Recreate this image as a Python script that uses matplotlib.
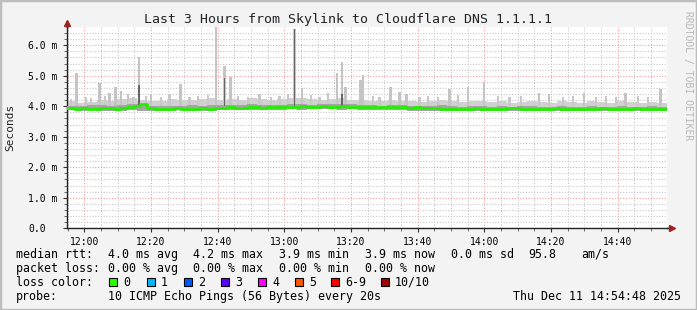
import matplotlib
matplotlib.use("Agg")
import matplotlib.pyplot as plt
import numpy as np

plt.rcParams['font.family'] = ['DejaVu Sans Mono']

# median rtt (ms), one value every 2 minutes starting 11:54:48
median_ms = [3.94, 3.92, 3.93, 3.91, 3.92, 3.94, 3.93, 3.92, 3.95, 3.97,
             4.01, 4.06, 3.93, 3.92, 3.91, 3.92, 3.93, 3.92, 3.91, 3.92,
             3.93, 3.92, 3.93, 3.94, 3.96, 3.95, 3.94, 3.97, 3.96, 3.95,
             3.97, 3.98, 3.96, 3.97, 3.99, 4.00, 3.98, 3.99, 4.01, 3.98,
             3.99, 4.00, 3.98, 3.97, 3.98, 3.99, 3.97, 3.98, 3.96, 3.97,
             3.96, 3.95, 3.96, 3.94, 3.95, 3.93, 3.92, 3.91, 3.92, 3.90,
             3.91, 3.93, 3.91, 3.90, 3.92, 3.91, 3.93, 3.94, 3.92, 3.91,
             3.92, 3.90, 3.91, 3.93, 3.92, 3.91, 3.90, 3.92, 3.91, 3.92,
             3.93, 3.91, 3.92, 3.90, 3.91, 3.94, 3.92, 3.91, 3.90, 3.91]

# smoke envelope (ms), one value every 3 minutes starting 11:54:48
smoke_max = [4.18, 4.12, 4.15, 4.20, 4.16, 4.24, 4.28, 4.22, 4.16,
             4.18, 4.24, 4.20, 4.22, 4.25, 4.26, 4.20,
             4.24, 4.22, 4.28, 4.24, 4.20, 4.24,
             4.28, 4.26, 4.24, 4.22, 4.24, 4.26, 4.22,
             4.20, 4.18, 4.16, 4.20, 4.18, 4.16, 4.14,
             4.16, 4.20, 4.18, 4.14, 4.16, 4.18,
             4.14, 4.16, 4.12, 4.14, 4.18, 4.14, 4.12,
             4.16, 4.14, 4.12, 4.16, 4.14, 4.12, 4.16, 4.14, 4.12, 4.13, 4.11]
smoke_mid = [4.02, 4.00, 4.03, 4.04, 4.02, 4.03, 4.06, 4.08, 4.02,
             4.00, 4.02, 4.01, 4.03, 4.02, 4.04, 4.03,
             4.04, 4.03, 4.06, 4.05, 4.04, 4.05,
             4.08, 4.06, 4.05, 4.07, 4.06, 4.08, 4.06,
             4.04, 4.03, 4.02, 4.04, 4.03, 4.01, 4.02,
             4.01, 4.03, 4.00, 3.99, 4.01, 4.00,
             3.99, 4.00, 3.98, 4.01, 4.00, 3.99, 3.98,
             4.00, 3.99, 3.98, 4.01, 3.99, 3.98, 4.00, 3.99, 3.98, 4.00, 3.99]
smoke_min = [3.87, 3.86, 3.87, 3.86, 3.85, 3.86, 3.87, 3.86, 3.86, 3.85,
             3.86, 3.87, 3.86, 3.85, 3.86, 3.87, 3.87, 3.88, 3.87, 3.88,
             3.89, 3.88, 3.90, 3.89, 3.90, 3.91, 3.90, 3.89, 3.90, 3.89,
             3.88, 3.89, 3.88, 3.87, 3.86, 3.85, 3.84, 3.85, 3.84, 3.85,
             3.84, 3.85, 3.84, 3.85, 3.84, 3.85, 3.86, 3.85, 3.84, 3.85,
             3.84, 3.85, 3.84, 3.85, 3.86, 3.85, 3.84, 3.85, 3.84, 3.85]

# spikes: minutes after 12:00, top of light smoke, top of dark smoke (0 = none)
spike_min = [-2.4, 4.5, 7.5, 9.3, 11.0, 16.3, 20.0, 28.8, 39.5, 42.0, 43.8,
             63.0, 65.3, 75.8, 77.2, 78.3, 82.8, 83.6, 91.8, 94.5, 96.6,
             109.5, 115.0, 119.8, 136.3, 139.3, 149.8, 162.3, 172.8]
spike_top = [5.08, 4.77, 4.45, 4.64, 4.50, 5.62, 4.40, 4.72, 6.60, 5.33, 4.97,
             6.55, 4.60, 5.10, 5.44, 4.64, 4.86, 5.02, 4.62, 4.48, 4.40,
             4.55, 4.64, 4.80, 4.42, 4.40, 4.42, 4.44, 4.57]
spike_dark = [0, 0, 0, 0, 0, 4.70, 0, 0, 0, 4.92, 0,
              6.55, 0, 0, 4.40, 0, 0, 0, 0, 0, 0,
              0, 0, 0, 0, 0, 0, 0, 0]

# smaller bumps in the smoke
bump_min = [-4.0, 0.5, 2.0, 6.2, 13.0, 14.5, 18.5, 23.0, 25.5, 31.5, 34.0, 37.0,
            46.0, 49.0, 52.5, 56.0, 58.5, 61.0, 68.0, 70.5, 73.0, 86.5, 88.5,
            100.5, 103.0, 106.0, 112.0, 124.0, 127.5, 131.0, 143.5, 146.5,
            153.5, 156.5, 159.5, 166.0, 169.0]
bump_top = [4.25, 4.30, 4.28, 4.35, 4.40, 4.30, 4.35, 4.30, 4.40, 4.30, 4.35, 4.38,
            4.35, 4.30, 4.40, 4.30, 4.35, 4.40, 4.38, 4.30, 4.45, 4.35, 4.30,
            4.30, 4.35, 4.30, 4.38, 4.35, 4.30, 4.35, 4.30, 4.35,
            4.30, 4.35, 4.30, 4.35, 4.30]

time_ticks = [0, 20, 40, 60, 80, 100, 120, 140, 160]
time_labels = ['12:00', '12:20', '12:40', '13:00', '13:20', '13:40', '14:00', '14:20', '14:40']
y_ticks = [0, 1, 2, 3, 4, 5, 6]
y_labels = ['0.0', '1.0 m', '2.0 m', '3.0 m', '4.0 m', '5.0 m', '6.0 m']

loss_names = ['0', '1', '2', '3', '4', '5', '6-9', '10/10']
loss_colors = ['#26ff00', '#00b8ff', '#0059ff', '#5e00ff', '#ff00ff', '#ff5500', '#ff0000', '#a10000']

t_start, t_end = -5.2, 174.8
W, H = 697, 310

fig = plt.figure(figsize=(W / 100, H / 100), dpi=100)
fig.patch.set_facecolor('#f3f3f3')
ax = fig.add_axes([67 / W, 1 - 228.2 / H, 600 / W, 201.2 / H])
ax.set_facecolor('white')

# smoke
t_smoke = np.arange(len(smoke_max) + 1) * 3 + t_start
ax.fill_between(t_smoke, smoke_min + smoke_min[-1:], smoke_max + smoke_max[-1:],
                step='post', color='#d0d0d0', lw=0, zorder=2)
ax.bar(bump_min, np.array(bump_top) - 4.0, bottom=4.0, width=0.7,
       color='#c8c8c8', lw=0, zorder=2)
ax.bar(spike_min, np.array(spike_top) - 4.0, bottom=4.0, width=0.7,
       color='#c4c4c4', lw=0, zorder=2)
ax.fill_between(t_smoke, smoke_min + smoke_min[-1:], smoke_mid + smoke_mid[-1:],
                step='post', color='#a4a4a4', lw=0, zorder=3)
dark = np.array(spike_dark)
ax.bar(spike_min, np.where(dark > 0, dark - 4.0, 0), bottom=4.0, width=0.5,
       color='#666666', lw=0, zorder=3)

# median
t_med = np.arange(len(median_ms) + 1) * 2 + t_start
ax.step(t_med, median_ms + median_ms[-1:], where='post', color='#22f000', lw=2.0, zorder=5)

ax.set_xlim(t_start, t_end)
ax.set_ylim(0, 6.6)

ax.set_xticks(time_ticks)
ax.set_xticklabels(time_labels)
ax.set_xticks(np.arange(-5, 175, 5), minor=True)
ax.set_yticks(y_ticks)
ax.set_yticklabels(y_labels)
ax.set_yticks(np.arange(0, 6.6, 0.2), minor=True)

ax.grid(which='minor', color='#c8c8c8', linestyle=(0, (1, 1.5)), lw=0.8, zorder=1)
ax.grid(which='major', color='#f4a0a0', linestyle=(0, (1, 1.5)), lw=0.8, zorder=1)

ax.tick_params(axis='both', which='major', labelsize=7, length=3, width=0.8, color='#333333')
ax.tick_params(axis='both', which='minor', length=2, width=0.6, color='#555555')
ax.tick_params(axis='y', which='major', pad=25)
for lab in ax.get_yticklabels():
    lab.set_horizontalalignment('left')

for s in ['top', 'right']:
    ax.spines[s].set_visible(False)
for s in ['left', 'bottom']:
    ax.spines[s].set_color('#222222')
    ax.spines[s].set_linewidth(1.0)

# axis arrows
ax.plot([1.0, 1.008], [0, 0], transform=ax.transAxes, color='#222222', lw=1.0, clip_on=False)
ax.plot([1.009], [0], transform=ax.transAxes, marker='>', ms=4, color='#a02020', clip_on=False)
ax.plot([0, 0], [1.0, 1.02], transform=ax.transAxes, color='#222222', lw=1.0, clip_on=False)
ax.plot([0], [1.022], transform=ax.transAxes, marker='^', ms=4, color='#a02020', clip_on=False)

fig.text(348 / W, 1 - 19 / H, 'Last 3 Hours from Skylink to Cloudflare DNS 1.1.1.1',
         ha='center', va='center', fontsize=9.5, color='#222222')
fig.text(10 / W, 1 - 127 / H, 'Seconds', rotation=90, ha='center', va='center',
         fontsize=8, color='#222222')
fig.text(688 / W, 1 - 76 / H, 'RRDTOOL / TOBI OETIKER', rotation=270, ha='center',
         va='center', fontsize=7, color='#b8b8b8')

fs = 8.4
rows = [254.3, 268.3, 282.3, 296.3]
fig.text(16 / W, 1 - rows[0] / H, 'median rtt:', va='center', fontsize=fs)
for x, s in zip([108, 193, 279, 365, 451, 528, 581],
                ['4.0 ms avg', '4.2 ms max', '3.9 ms min', '3.9 ms now', '0.0 ms sd', '95.8', 'am/s']):
    fig.text(x / W, 1 - rows[0] / H, s, va='center', fontsize=fs)
fig.text(16 / W, 1 - rows[1] / H, 'packet loss:', va='center', fontsize=fs)
for x, s in zip([108, 193, 279, 365],
                ['0.00 % avg', '0.00 % max', '0.00 % min', '0.00 % now']):
    fig.text(x / W, 1 - rows[1] / H, s, va='center', fontsize=fs)
fig.text(16 / W, 1 - rows[2] / H, 'loss color:', va='center', fontsize=fs)
for x, name, c in zip([109, 147, 184, 221, 258, 295, 331, 381], loss_names, loss_colors):
    fig.patches.append(plt.Rectangle((x / W, 1 - (rows[2] + 4) / H), 8 / W, 8 / H,
                                     transform=fig.transFigure, facecolor=c,
                                     edgecolor='black', lw=0.8))
    fig.text((x + 14) / W, 1 - rows[2] / H, name, va='center', fontsize=fs)
fig.text(16 / W, 1 - rows[3] / H, 'probe:', va='center', fontsize=fs)
fig.text(108 / W, 1 - rows[3] / H, '10 ICMP Echo Pings (56 Bytes) every 20s', va='center', fontsize=fs)
fig.text(681 / W, 1 - rows[3] / H, 'Thu Dec 11 14:54:48 2025', ha='right', va='center', fontsize=fs)

# frame
fig.patches.append(plt.Rectangle((0, 0), 1, 1, transform=fig.transFigure, fill=False,
                                 edgecolor='#bdbdbd', lw=2.5))

fig.savefig('out.png', dpi=100, facecolor=fig.get_facecolor())
